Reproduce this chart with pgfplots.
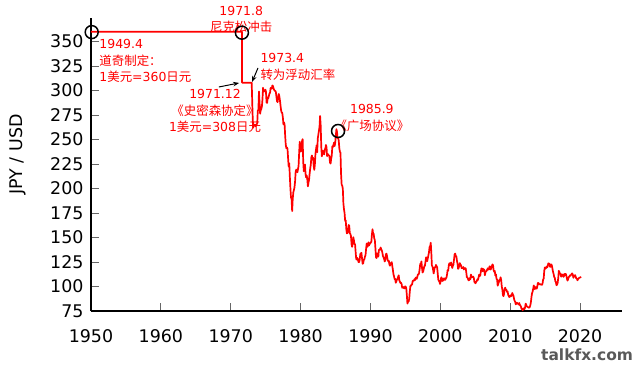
\documentclass[border=0pt]{standalone}
\usepackage{fontspec}
\setmainfont{DejaVu Sans}
\newfontfamily\cjk{Noto Sans CJK SC}
\usepackage{pgfplots}
\usepackage{pgfplotstable}
\pgfplotsset{compat=1.18}
\usetikzlibrary{arrows.meta}

\pgfplotstableread[row sep=\\]{
yr mo v\\
1950 0.5 360\\ 1971 7.7 360\\ 1971 7.9 308\\ 1973 0.5 308\\
1973 2 276\\ 1973 3 262\\ 1973 4 265.5\\ 1973 5 264.6\\ 1973 6 264.9\\ 1973 7 263.4\\ 1973 8 265.2\\ 1973 9 265.4\\ 1973 10 266.4\\ 1973 11 279.7\\ 1973 12 280.0\\
1974 1 299.0\\ 1974 2 287.6\\ 1974 3 276.3\\ 1974 4 279.9\\ 1974 5 281.1\\ 1974 6 283.8\\ 1974 7 290.9\\ 1974 8 302.8\\ 1974 9 299.0\\ 1974 10 299.2\\ 1974 11 299.4\\ 1974 12 300.9\\
1975 1 298.8\\ 1975 2 287.7\\ 1975 3 287.4\\ 1975 4 292.8\\ 1975 5 291.9\\ 1975 6 294.6\\ 1975 7 296.9\\ 1975 8 297.8\\ 1975 9 302.6\\ 1975 10 302.6\\ 1975 11 302.0\\ 1975 12 305.2\\
1976 1 304.5\\ 1976 2 302.3\\ 1976 3 300.7\\ 1976 4 299.8\\ 1976 5 299.6\\ 1976 6 298.5\\ 1976 7 293.5\\ 1976 8 289.1\\ 1976 9 288.1\\ 1976 10 292.9\\ 1976 11 296.5\\ 1976 12 294.1\\
1977 1 290.0\\ 1977 2 284.7\\ 1977 3 279.9\\ 1977 4 277.5\\ 1977 5 277.2\\ 1977 6 272.6\\ 1977 7 265.4\\ 1977 8 267.4\\ 1977 9 265.5\\ 1977 10 253.8\\ 1977 11 244.7\\ 1977 12 241.2\\
1978 1 241.9\\ 1978 2 240.6\\ 1978 3 230.9\\ 1978 4 222.4\\ 1978 5 225.8\\ 1978 6 212.2\\ 1978 7 200.3\\ 1978 8 190.8\\ 1978 9 189.2\\ 1978 10 177.0\\ 1978 11 189.6\\ 1978 12 196.0\\
1979 1 198.4\\ 1979 2 201.2\\ 1979 3 207.1\\ 1979 4 217.0\\ 1979 5 219.3\\ 1979 6 219.1\\ 1979 7 216.6\\ 1979 8 219.7\\ 1979 9 223.0\\ 1979 10 236.3\\ 1979 11 247.8\\ 1979 12 239.1\\
1980 1 237.7\\ 1980 2 244.1\\ 1980 3 248.4\\ 1980 4 250.4\\ 1980 5 227.3\\ 1980 6 217.6\\ 1980 7 221.1\\ 1980 8 224.4\\ 1980 9 214.9\\ 1980 10 211.3\\ 1980 11 213.3\\ 1980 12 209.5\\
1981 1 202.2\\ 1981 2 205.8\\ 1981 3 208.9\\ 1981 4 215.1\\ 1981 5 220.5\\ 1981 6 224.2\\ 1981 7 232.0\\ 1981 8 233.7\\ 1981 9 229.5\\ 1981 10 231.4\\ 1981 11 223.3\\ 1981 12 219.0\\
1982 1 224.6\\ 1982 2 235.3\\ 1982 3 240.0\\ 1982 4 244.1\\ 1982 5 237.0\\ 1982 6 251.1\\ 1982 7 255.0\\ 1982 8 259.0\\ 1982 9 263.1\\ 1982 10 274.0\\ 1982 11 264.1\\ 1982 12 242.5\\
1983 1 232.8\\ 1983 2 236.0\\ 1983 3 238.4\\ 1983 4 237.7\\ 1983 5 234.8\\ 1983 6 240.0\\ 1983 7 240.5\\ 1983 8 244.4\\ 1983 9 242.3\\ 1983 10 233.0\\ 1983 11 235.3\\ 1983 12 234.4\\
1984 1 233.8\\ 1984 2 233.2\\ 1984 3 226.4\\ 1984 4 225.4\\ 1984 5 230.4\\ 1984 6 233.5\\ 1984 7 243.0\\ 1984 8 242.3\\ 1984 9 244.9\\ 1984 10 246.8\\ 1984 11 243.3\\ 1984 12 247.0\\
1985 1 254.2\\ 1985 2 260.5\\ 1985 3 257.9\\ 1985 4 251.6\\ 1985 5 251.7\\ 1985 6 248.8\\ 1985 7 241.1\\ 1985 8 237.5\\ 1985 9 236.5\\ 1985 10 214.7\\ 1985 11 204.1\\ 1985 12 202.8\\
1986 1 200.0\\ 1986 2 184.9\\ 1986 3 178.7\\ 1986 4 175.1\\ 1986 5 167.0\\ 1986 6 167.5\\ 1986 7 158.6\\ 1986 8 154.2\\ 1986 9 154.7\\ 1986 10 156.5\\ 1986 11 162.8\\ 1986 12 162.0\\
1987 1 154.5\\ 1987 2 153.5\\ 1987 3 151.6\\ 1987 4 143.0\\ 1987 5 140.5\\ 1987 6 144.5\\ 1987 7 150.3\\ 1987 8 147.3\\ 1987 9 143.3\\ 1987 10 143.3\\ 1987 11 135.4\\ 1987 12 128.2\\
1988 1 127.4\\ 1988 2 129.2\\ 1988 3 127.2\\ 1988 4 124.9\\ 1988 5 124.8\\ 1988 6 127.2\\ 1988 7 133.0\\ 1988 8 133.8\\ 1988 9 134.3\\ 1988 10 128.5\\ 1988 11 123.2\\ 1988 12 123.6\\
1989 1 127.2\\ 1989 2 127.8\\ 1989 3 130.4\\ 1989 4 132.0\\ 1989 5 138.4\\ 1989 6 143.9\\ 1989 7 140.4\\ 1989 8 141.5\\ 1989 9 145.1\\ 1989 10 141.9\\ 1989 11 143.5\\ 1989 12 143.7\\
1990 1 145.1\\ 1990 2 145.5\\ 1990 3 153.2\\ 1990 4 158.5\\ 1990 5 154.0\\ 1990 6 153.7\\ 1990 7 149.0\\ 1990 8 147.5\\ 1990 9 139.0\\ 1990 10 129.7\\ 1990 11 129.0\\ 1990 12 133.7\\
1991 1 133.7\\ 1991 2 130.5\\ 1991 3 137.4\\ 1991 4 137.1\\ 1991 5 138.2\\ 1991 6 139.8\\ 1991 7 137.8\\ 1991 8 136.8\\ 1991 9 134.3\\ 1991 10 130.8\\ 1991 11 129.6\\ 1991 12 128.0\\
1992 1 125.5\\ 1992 2 127.7\\ 1992 3 132.9\\ 1992 4 133.5\\ 1992 5 130.8\\ 1992 6 126.8\\ 1992 7 125.9\\ 1992 8 126.3\\ 1992 9 122.6\\ 1992 10 121.2\\ 1992 11 123.9\\ 1992 12 123.9\\
1993 1 124.9\\ 1993 2 120.8\\ 1993 3 117.0\\ 1993 4 112.4\\ 1993 5 110.3\\ 1993 6 107.4\\ 1993 7 107.7\\ 1993 8 103.8\\ 1993 9 105.4\\ 1993 10 107.0\\ 1993 11 107.9\\ 1993 12 109.9\\
1994 1 111.4\\ 1994 2 106.3\\ 1994 3 105.1\\ 1994 4 103.5\\ 1994 5 103.8\\ 1994 6 102.6\\ 1994 7 98.6\\ 1994 8 99.9\\ 1994 9 98.8\\ 1994 10 98.4\\ 1994 11 98.0\\ 1994 12 100.2\\
1995 1 99.8\\ 1995 2 98.2\\ 1995 3 90.8\\ 1995 4 82.5\\ 1995 5 85.2\\ 1995 6 84.6\\ 1995 7 87.2\\ 1995 8 94.6\\ 1995 9 100.5\\ 1995 10 100.8\\ 1995 11 101.9\\ 1995 12 101.9\\
1996 1 105.8\\ 1996 2 105.8\\ 1996 3 105.9\\ 1996 4 107.4\\ 1996 5 106.5\\ 1996 6 108.8\\ 1996 7 109.2\\ 1996 8 107.8\\ 1996 9 109.9\\ 1996 10 112.4\\ 1996 11 112.3\\ 1996 12 113.8\\
1997 1 118.0\\ 1997 2 123.0\\ 1997 3 122.7\\ 1997 4 125.6\\ 1997 5 119.2\\ 1997 6 114.3\\ 1997 7 115.4\\ 1997 8 117.9\\ 1997 9 120.9\\ 1997 10 121.1\\ 1997 11 125.4\\ 1997 12 129.7\\
1998 1 129.6\\ 1998 2 125.9\\ 1998 3 129.0\\ 1998 4 131.8\\ 1998 5 135.0\\ 1998 6 140.3\\ 1998 7 140.7\\ 1998 8 144.7\\ 1998 9 134.5\\ 1998 10 121.3\\ 1998 11 120.6\\ 1998 12 117.4\\
1999 1 113.3\\ 1999 2 116.7\\ 1999 3 119.5\\ 1999 4 119.8\\ 1999 5 122.0\\ 1999 6 120.7\\ 1999 7 119.7\\ 1999 8 113.2\\ 1999 9 106.9\\ 1999 10 106.0\\ 1999 11 104.8\\ 1999 12 102.6\\
2000 1 105.3\\ 2000 2 109.4\\ 2000 3 106.3\\ 2000 4 105.6\\ 2000 5 108.3\\ 2000 6 106.1\\ 2000 7 108.2\\ 2000 8 108.1\\ 2000 9 106.8\\ 2000 10 108.4\\ 2000 11 109.0\\ 2000 12 112.2\\
2001 1 116.7\\ 2001 2 116.2\\ 2001 3 121.5\\ 2001 4 123.8\\ 2001 5 121.8\\ 2001 6 122.2\\ 2001 7 124.6\\ 2001 8 121.5\\ 2001 9 118.9\\ 2001 10 121.3\\ 2001 11 122.3\\ 2001 12 127.6\\
2002 1 132.7\\ 2002 2 133.6\\ 2002 3 131.1\\ 2002 4 130.8\\ 2002 5 126.4\\ 2002 6 123.3\\ 2002 7 118.0\\ 2002 8 119.0\\ 2002 9 121.1\\ 2002 10 123.9\\ 2002 11 121.6\\ 2002 12 121.9\\
2003 1 118.8\\ 2003 2 119.3\\ 2003 3 118.6\\ 2003 4 119.9\\ 2003 5 117.4\\ 2003 6 118.3\\ 2003 7 118.7\\ 2003 8 118.7\\ 2003 9 114.8\\ 2003 10 109.5\\ 2003 11 109.2\\ 2003 12 107.7\\
2004 1 106.3\\ 2004 2 106.6\\ 2004 3 108.5\\ 2004 4 107.4\\ 2004 5 112.2\\ 2004 6 109.4\\ 2004 7 109.5\\ 2004 8 110.2\\ 2004 9 110.0\\ 2004 10 108.8\\ 2004 11 104.7\\ 2004 12 103.8\\
2005 1 103.3\\ 2005 2 104.9\\ 2005 3 105.3\\ 2005 4 107.2\\ 2005 5 106.6\\ 2005 6 108.8\\ 2005 7 111.9\\ 2005 8 110.6\\ 2005 9 111.2\\ 2005 10 114.9\\ 2005 11 118.5\\ 2005 12 118.5\\
2006 1 115.5\\ 2006 2 117.9\\ 2006 3 117.3\\ 2006 4 117.1\\ 2006 5 111.5\\ 2006 6 114.5\\ 2006 7 115.6\\ 2006 8 115.9\\ 2006 9 117.2\\ 2006 10 118.6\\ 2006 11 117.3\\ 2006 12 117.3\\
2007 1 120.6\\ 2007 2 120.5\\ 2007 3 117.3\\ 2007 4 118.8\\ 2007 5 120.8\\ 2007 6 122.6\\ 2007 7 121.6\\ 2007 8 116.7\\ 2007 9 115.0\\ 2007 10 115.9\\ 2007 11 111.1\\ 2007 12 112.4\\
2008 1 107.8\\ 2008 2 107.0\\ 2008 3 100.8\\ 2008 4 102.7\\ 2008 5 104.4\\ 2008 6 106.9\\ 2008 7 106.9\\ 2008 8 109.4\\ 2008 9 106.6\\ 2008 10 100.1\\ 2008 11 96.9\\ 2008 12 91.3\\
2009 1 90.1\\ 2009 2 92.8\\ 2009 3 97.9\\ 2009 4 98.8\\ 2009 5 96.6\\ 2009 6 96.6\\ 2009 7 94.5\\ 2009 8 95.0\\ 2009 9 91.5\\ 2009 10 90.3\\ 2009 11 89.2\\ 2009 12 89.9\\
2010 1 91.1\\ 2010 2 90.1\\ 2010 3 90.7\\ 2010 4 93.4\\ 2010 5 91.8\\ 2010 6 90.9\\ 2010 7 87.7\\ 2010 8 85.4\\ 2010 9 84.4\\ 2010 10 81.8\\ 2010 11 82.5\\ 2010 12 83.4\\
2011 1 82.6\\ 2011 2 82.5\\ 2011 3 81.6\\ 2011 4 83.2\\ 2011 5 81.2\\ 2011 6 80.5\\ 2011 7 79.3\\ 2011 8 77.1\\ 2011 9 76.8\\ 2011 10 75.8\\ 2011 11 77.5\\ 2011 12 77.8\\
2012 1 76.9\\ 2012 2 78.6\\ 2012 3 82.5\\ 2012 4 81.3\\ 2012 5 79.7\\ 2012 6 79.3\\ 2012 7 79.0\\ 2012 8 78.7\\ 2012 9 78.2\\ 2012 10 78.9\\ 2012 11 80.9\\ 2012 12 83.9\\
2013 1 89.2\\ 2013 2 93.1\\ 2013 3 94.7\\ 2013 4 97.7\\ 2013 5 101.1\\ 2013 6 97.3\\ 2013 7 99.7\\ 2013 8 97.8\\ 2013 9 99.2\\ 2013 10 97.8\\ 2013 11 100.1\\ 2013 12 103.5\\
2014 1 103.7\\ 2014 2 102.1\\ 2014 3 102.3\\ 2014 4 102.5\\ 2014 5 101.8\\ 2014 6 102.1\\ 2014 7 101.7\\ 2014 8 102.9\\ 2014 9 107.1\\ 2014 10 108.0\\ 2014 11 116.2\\ 2014 12 119.4\\
2015 1 118.3\\ 2015 2 118.8\\ 2015 3 120.4\\ 2015 4 119.5\\ 2015 5 120.8\\ 2015 6 123.7\\ 2015 7 123.2\\ 2015 8 123.2\\ 2015 9 120.0\\ 2015 10 120.1\\ 2015 11 122.6\\ 2015 12 121.6\\
2016 1 118.3\\ 2016 2 115.0\\ 2016 3 113.0\\ 2016 4 109.7\\ 2016 5 109.0\\ 2016 6 105.5\\ 2016 7 104.1\\ 2016 8 101.3\\ 2016 9 101.9\\ 2016 10 103.8\\ 2016 11 108.6\\ 2016 12 116.0\\
2017 1 114.7\\ 2017 2 113.1\\ 2017 3 112.9\\ 2017 4 110.0\\ 2017 5 112.2\\ 2017 6 110.9\\ 2017 7 112.4\\ 2017 8 109.8\\ 2017 9 110.8\\ 2017 10 112.9\\ 2017 11 112.8\\ 2017 12 112.9\\
2018 1 110.8\\ 2018 2 107.8\\ 2018 3 106.0\\ 2018 4 107.6\\ 2018 5 109.7\\ 2018 6 110.0\\ 2018 7 111.4\\ 2018 8 111.0\\ 2018 9 111.9\\ 2018 10 112.8\\ 2018 11 113.4\\ 2018 12 112.0\\
2019 1 108.9\\ 2019 2 110.5\\ 2019 3 111.1\\ 2019 4 111.6\\ 2019 5 109.9\\ 2019 6 108.1\\ 2019 7 108.2\\ 2019 8 106.3\\ 2019 9 107.5\\ 2019 10 108.1\\ 2019 11 108.9\\ 2019 12 109.1\\
2020 1 109.3\\ 2020 2 110.0\\
}\fxdata

\begin{document}
\begin{tikzpicture}
\begin{axis}[
  name=ax,
  scale only axis, width=531bp, height=293bp,
  xmin=1950, xmax=2026, ymin=75, ymax=374,
  axis x line*=bottom, axis y line*=left,
  axis line style={line width=1.6bp, black},
  xtick={1950,1960,...,2020}, ytick={75,100,...,350},
  tick align=inside, major tick length=8bp,
  tick style={line width=1bp, black!60},
  x tick label style={/pgf/number format/1000 sep={}, yshift=-15bp},
  y tick label style={xshift=-4bp},
  ticklabel style={font=\fontsize{17.5}{21}\selectfont},
  /pgf/number format/assume math mode=true,
  ylabel={JPY / USD},
  ylabel shift=17bp,
  ylabel style={font=\fontsize{17.5}{21}\selectfont, at={(ticklabel cs:0.534)}},
  clip=false,
]
\addplot[red, line width=1.7bp, line join=round] table[x expr=\thisrow{yr}+(\thisrow{mo}-0.5)/12, y=v] {\fxdata};
\addplot[only marks, mark=o, mark size=6.5bp, mark options={line width=1.5bp, black}] coordinates {(1950.1,359.6) (1971.6,359) (1985.36,258.7)};
\draw[black, line width=1bp, -{Stealth[length=6bp,width=4.5bp]}] (axis cs:1968.3,303.6) -- (axis cs:1971.2,307.7);
\draw[black, line width=1bp, -{Stealth[length=6bp,width=4.5bp]}] (axis cs:1973.9,323) -- (axis cs:1973.05,308.7);
\node[anchor=west, align=left, text=red, font=\fontsize{12.5}{16.5}\selectfont] at (axis cs:1950.7,330.1) {1949.4\\{\cjk 道奇制定：}\\1{\cjk 美元}=360{\cjk 日元}};
\node[align=center, text=red, font=\fontsize{12.5}{16.5}\selectfont] at (axis cs:1971.5,372.4) {1971.8\\{\cjk 尼克松冲击}};
\node[anchor=west, align=left, text=red, font=\fontsize{12.5}{16.5}\selectfont] at (axis cs:1973.76,324.0) {1973.4\\{\cjk 转为浮动汇率}};
\node[align=center, text=red, font=\fontsize{12.5}{16.5}\selectfont] at (axis cs:1967.75,279.1) {1971.12\\{\cjk 《史密森协定》}\\1{\cjk 美元}=308{\cjk 日元}};
\node[align=center, text=red, font=\fontsize{12.5}{16.5}\selectfont] at (axis cs:1990.2,271.9) {1985.9\\{\cjk 《广场协议》}};
\node[text=black!65, font=\fontsize{15.5}{18}\selectfont\bfseries] at (axis cs:2021,30.1) {talkfx.com};
\end{axis}
\pgfresetboundingbox
\path[use as bounding box] ([xshift=-91bp,yshift=-55bp]ax.south west) rectangle ([xshift=18bp,yshift=18bp]ax.north east);
\end{tikzpicture}
\end{document}
